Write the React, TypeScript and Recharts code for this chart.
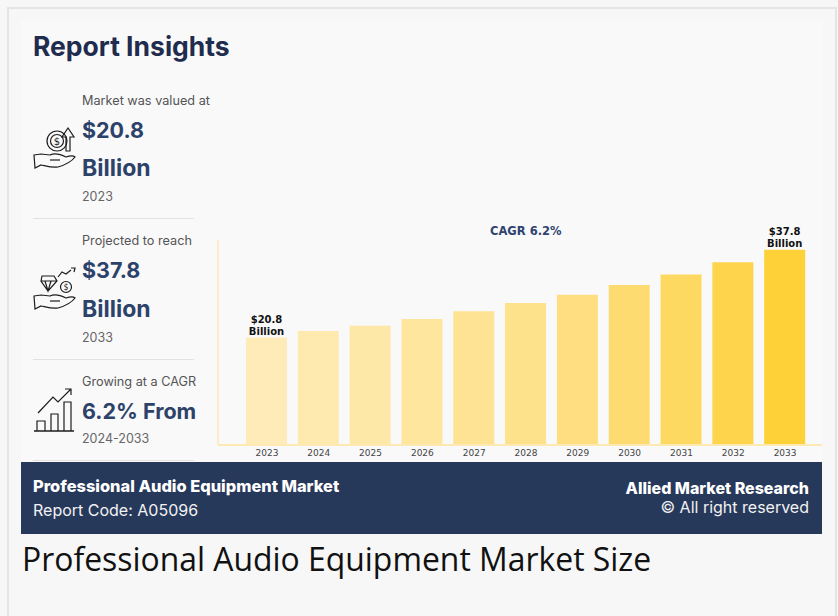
import { Bar, BarChart, Cell, LabelList, XAxis, YAxis } from "recharts";

const years = ["2023", "2024", "2025", "2026", "2027", "2028", "2029", "2030", "2031", "2032", "2033"];
const marketSize = [20.8, 22.1, 23.1, 24.4, 25.9, 27.5, 29.1, 31.0, 33.0, 35.4, 37.8];
const barColors = [
  "#FEEBB8", "#FEE9AF", "#FEE8A8", "#FEE69F", "#FEE395", "#FEE18B",
  "#FEDE80", "#FEDB70", "#FED961", "#FED44C", "#FFD138",
];
const barLabels = ["$20.8", "", "", "", "", "", "", "", "", "", "$37.8"];

const data = years.map((year, i) => ({ year, value: marketSize[i], label: barLabels[i] }));

const NAVY = "#27395b";
const HEAD = "Inter, sans-serif";

function BarLabel({ x, y, width, value }: any) {
  if (!value) return null;
  const cx = x + width / 2;
  return (
    <text textAnchor="middle" fontFamily="DejaVu Sans" fontWeight={700} fontSize={10} fill="#111">
      <tspan x={cx} y={y - 15}>{value}</tspan>
      <tspan x={cx} y={y - 3}>Billion</tspan>
    </text>
  );
}

function Txt({ x, y, size, color, weight, font, right, children }: any) {
  // y is the vertical centre of the line
  return (
    <div
      style={{
        position: "absolute",
        ...(right !== undefined ? { right } : { left: x }),
        top: y - 20,
        height: 40,
        lineHeight: "40px",
        fontSize: size,
        color,
        fontWeight: weight ?? 400,
        fontFamily: font ?? HEAD,
        whiteSpace: "nowrap",
      }}
    >
      {children}
    </div>
  );
}

function Divider({ y }: { y: number }) {
  return <div style={{ position: "absolute", left: 33, top: y, width: 161, height: 1, background: "#e2e2e2" }} />;
}

function Hand({ dy }: { dy: number }) {
  return (
    <g transform={`translate(0 ${dy})`}>
      <path d="M34 155 L41 154 L50 155 C56 152 62 155 66 157 C69 156 73 155 75 157 C72 161 65 165 58 167 C52 168 46 166 41 165 L35 168 Z" />
      <path d="M50 160 L60 160" />
    </g>
  );
}

function Icons() {
  return (
    <svg
      width={100}
      height={460}
      style={{ position: "absolute", left: 0, top: 0 }}
      fill="none"
      stroke="#1d1d1d"
      strokeWidth={1.2}
    >
      <Hand dy={0} />
      <circle cx={57} cy={141} r={10} />
      <circle cx={57} cy={141} r={6.5} />
      <text x={57} y={145} textAnchor="middle" fontSize={10} fontFamily="DejaVu Sans" fill="#1d1d1d" stroke="none">$</text>
      <path d="M66 151 V137 H62 L68 128 L74 137 H70 V151 Z" />

      <Hand dy={141} />
      <path d="M42 276 H54 L57 281 L48 291 L41 281 Z M41 281 H57 M45 281 L48 291 L51 281" />
      <circle cx={66} cy={287} r={5.5} />
      <text x={66} y={290} textAnchor="middle" fontSize={8} fontFamily="DejaVu Sans" fill="#1d1d1d" stroke="none">$</text>
      <path d="M58 277 L62 272 L66 274 L71 270 M71 268 L75 268 L74 272" />

      <path d="M34 431 H74" strokeWidth={1.6} />
      <path d="M37 431 V421 H45 V431 M51 431 V414 H58 V431 M64 431 V402 H71 V431" />
      <path d="M38 413 L53 397 L58 402 L71 389 M65 389 H71 V395" />
    </svg>
  );
}

export default function App() {
  return (
    <div style={{ position: "fixed", left: 0, top: 0, width: 838, height: 616, background: "#f7f7f7", overflow: "hidden" }}>
      <div style={{ position: "absolute", left: 7, top: 7, width: 826, height: 640, border: "2px solid #e4e4e4" }} />
      <div style={{ position: "absolute", left: 21, top: 21, width: 801, height: 441, background: "#f9f9fa" }} />

      <Txt x={33} y={46} size={26.5} weight={700} color="#1f2c4d">Report Insights</Txt>

      <Txt x={82} y={101} size={12.7} color="#555">Market was valued at</Txt>
      <Txt x={82} y={130} size={21.5} weight={700} color="#2d4269">$20.8</Txt>
      <Txt x={82} y={168} size={23} weight={700} color="#2d4269">Billion</Txt>
      <Txt x={82} y={197} size={12.5} color="#666">2023</Txt>
      <Divider y={218} />

      <Txt x={82} y={241} size={12.7} color="#555">Projected to reach</Txt>
      <Txt x={82} y={270} size={21.5} weight={700} color="#2d4269">$37.8</Txt>
      <Txt x={82} y={309} size={23} weight={700} color="#2d4269">Billion</Txt>
      <Txt x={82} y={338} size={12.5} color="#666">2033</Txt>
      <Divider y={359} />

      <Txt x={82} y={382} size={12.7} color="#555">Growing at a CAGR</Txt>
      <Txt x={82} y={411} size={21.5} weight={700} color="#2d4269">6.2% From</Txt>
      <Txt x={82} y={439} size={12.5} color="#666">2024-2033</Txt>
      <Divider y={460} />

      <Icons />

      <div style={{ position: "absolute", left: 0, top: 0 }}>
        <BarChart
          width={838}
          height={470}
          data={data}
          margin={{ top: 240, left: 217, right: 16, bottom: 0 }}
          barSize={41}
        >
          <XAxis
            dataKey="year"
            padding={{ left: 23, right: 11 }}
            height={25}
            interval={0}
            axisLine={{ stroke: "#fde9b4", strokeWidth: 2 }}
            tickLine={false}
            tickMargin={-1}
            tick={{ fill: "#444", fontSize: 9, fontFamily: "DejaVu Sans" }}
          />
          <YAxis
            width={1}
            domain={[0, 39.7]}
            tick={false}
            tickLine={false}
            axisLine={{ stroke: "#fde9b4", strokeWidth: 1.5 }}
          />
          <Bar dataKey="value" isAnimationActive={false}>
            {data.map((d, i) => (
              <Cell key={d.year} fill={barColors[i]} />
            ))}
            <LabelList dataKey="label" content={BarLabel} />
          </Bar>
        </BarChart>
      </div>

      <Txt x={490} y={231} size={11.5} weight={700} font="DejaVu Sans" color="#2f4470">CAGR 6.2%</Txt>

      <div style={{ position: "absolute", left: 21, top: 462, width: 801, height: 72, background: NAVY }} />
      <Txt x={33} y={486} size={16.4} weight={800} color="#fff">Professional Audio Equipment Market</Txt>
      <Txt x={33} y={510} size={16} color="#f2f2f2">Report Code: A05096</Txt>
      <Txt right={29} y={488} size={16} weight={800} color="#fff">Allied Market Research</Txt>
      <Txt right={29} y={507} size={16} color="#f2f2f2">© All right reserved</Txt>

      <Txt x={22} y={559} size={31.9} font="Open Sans, sans-serif" color="#111">Professional Audio Equipment Market Size</Txt>
    </div>
  );
}
